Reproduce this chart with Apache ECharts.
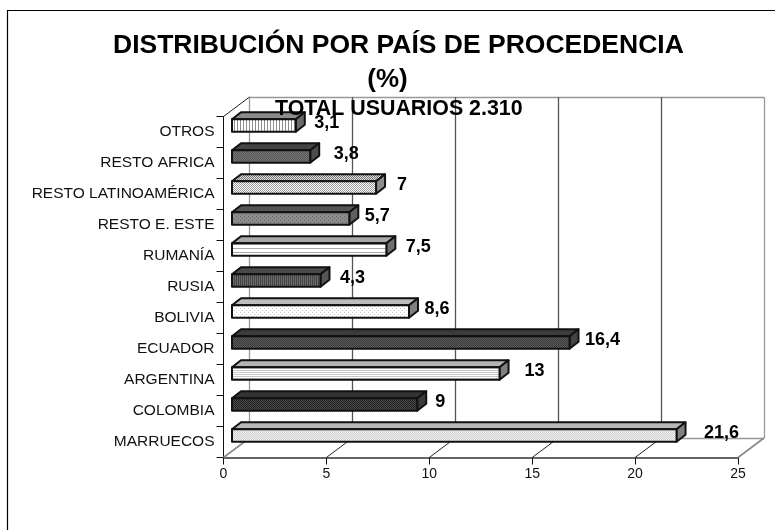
<!DOCTYPE html>
<html lang="es">
  <head>
    <meta charset="UTF-8" />
    <title>Distribución por país de procedencia</title>
    <script src="https://cdn.jsdelivr.net/npm/echarts@6/dist/echarts.min.js"></script>
    <style>
      body { margin: 0; background: #fff; }
    </style>
  </head>
  <body>
    <div id="main" style="width: 775px; height: 530px"></div>
    <script type="text/javascript">
      const categories = [
        "MARRUECOS", "COLOMBIA", "ARGENTINA", "ECUADOR", "BOLIVIA", "RUSIA",
        "RUMANÍA", "RESTO E. ESTE", "RESTO LATINOAMÉRICA", "RESTO AFRICA", "OTROS",
      ];
      const values = [21.6, 9, 13, 16.4, 8.6, 4.3, 7.5, 5.7, 7, 3.8, 3.1];
      const xTicks = [0, 5, 10, 15, 20, 25];

      const font = "Liberation Sans";
      // the 3d box: how far the bars and the back wall sit behind the axes
      const wallX = 26, wallY = 19.5;
      const barShiftX = 8.5, barShiftY = -6.5, barH = 12.5, barDx = 9, barDy = 7;
      // value labels were hand placed in the original, so the gap varies
      const labelGap = [36, 14, 26, 24, 19, 23, 23, 19, 17, 27, 22];

      // small repeating tile: rows of a string, "x" = ink
      function tile(ink, paper, rows) {
        const c = document.createElement("canvas");
        c.height = rows.length;
        c.width = rows[0].length;
        const ctx = c.getContext("2d");
        rows.forEach((row, y) => {
          for (let x = 0; x < row.length; x++) {
            ctx.fillStyle = row[x] === "x" ? ink : paper;
            ctx.fillRect(x, y, 1, 1);
          }
        });
        return { image: c, repeat: "repeat" };
      }
      const dots = ["x.", ".x"];
      const sparse = ["x...", "....", "..x.", "...."];

      // front / top / side fill per category, same order as categories
      const barFills = [
        { front: tile("#cfcfcf", "#f2f2f2", dots), top: "#b8b8b8", side: "#808080" },
        { front: tile("#222222", "#4a4a4a", dots), top: "#333333", side: "#3a3a3a" },
        { front: tile("#c8c8c8", "#ffffff", ["x", "."]), top: "#b4b4b4", side: "#808080" },
        { front: tile("#3a3a3a", "#5a5a5a", dots), top: "#3c3c3c", side: "#444444" },
        { front: tile("#cccccc", "#ffffff", sparse), top: "#bdbdbd", side: "#808080" },
        { front: tile("#444444", "#6a6a6a", ["x.", "x."]), top: "#4a4a4a", side: "#555555" },
        { front: tile("#a8a8a8", "#ffffff", ["xx", "..", "..", ".."]), top: "#a8a8a8", side: "#707070" },
        { front: tile("#666666", "#8c8c8c", sparse), top: "#555555", side: "#606060" },
        { front: tile("#999999", "#ffffff", dots), top: tile("#777777", "#dddddd", dots), side: "#8c8c8c" },
        { front: tile("#555555", "#777777", dots), top: "#444444", side: "#4c4c4c" },
        { front: tile("#8c8c8c", "#ffffff", ["x..", "x.."]), top: "#8c8c8c", side: "#6a6a6a" },
      ];

      function renderBar(params, api) {
        const i = api.value(1);
        const base = api.coord([0, i]);
        const end = api.coord([api.value(0), i]);
        const x0 = base[0] + barShiftX;
        const x1 = end[0] + barShiftX;
        const y0 = base[1] + barShiftY - barH / 2;
        const y1 = y0 + barH;
        const line = { stroke: "#111", lineWidth: 2, lineJoin: "round" };
        const fills = barFills[i];
        return {
          type: "group",
          children: [
            {
              type: "polygon",
              shape: { points: [[x0, y0], [x0 + barDx, y0 - barDy], [x1 + barDx, y0 - barDy], [x1, y0]] },
              style: { fill: fills.top, ...line },
            },
            {
              type: "polygon",
              shape: { points: [[x1, y0], [x1 + barDx, y0 - barDy], [x1 + barDx, y1 - barDy], [x1, y1]] },
              style: { fill: fills.side, ...line },
            },
            {
              type: "rect",
              shape: { x: x0, y: y0, width: x1 - x0, height: barH },
              style: { fill: fills.front, ...line },
            },
            {
              type: "text",
              z2: 20,
              style: {
                x: x1 + barDx + labelGap[i],
                y: base[1] + barShiftY - 2.5,
                text: String(api.value(0)).replace(".", ","),
                fill: "#000",
                font: "bold 18px '" + font + "'",
                textAlign: "center",
                textVerticalAlign: "middle",
              },
            },
          ],
        };
      }

      // diagonals on the floor, plus the one going up the left wall
      function renderDiagonal(params, api) {
        const t = api.value(0);
        const box = params.coordSys;
        const atTop = api.value(1) === 1;
        const p = api.coord([t, 0]);
        const y = atTop ? box.y : box.y + box.height;
        const outer = !atTop && (t === xTicks[0] || t === xTicks[xTicks.length - 1]);
        return {
          type: "line",
          shape: { x1: p[0], y1: y, x2: p[0] + wallX, y2: y - wallY },
          style: { stroke: outer ? "#888" : "#222", lineWidth: outer ? 1.6 : 1 },
        };
      }

      const options = {
        backgroundColor: "#fff",
        animation: false,
        title: [
          {
            text: "DISTRIBUCIÓN POR PAÍS DE PROCEDENCIA",
            left: 108, top: 27,
            textStyle: { fontFamily: font, fontWeight: "bold", fontSize: 26.5, color: "#000" },
          },
          {
            text: "(%)",
            left: "center", top: 62,
            textStyle: { fontFamily: font, fontWeight: "bold", fontSize: 26, color: "#000" },
          },
          {
            text: "TOTAL USUARIOS 2.310",
            left: 270, top: 94,
            textStyle: { fontFamily: font, fontWeight: "bold", fontSize: 21.4, color: "#000" },
          },
        ],
        grid: [
          { left: 223.5, top: 116.5, width: 514.5, height: 341 },
          { left: 223.5 + wallX, top: 116.5 - wallY, width: 514.5, height: 341 },
        ],
        xAxis: [
          {
            type: "value", gridIndex: 0, min: 0, max: 25, interval: 5,
            axisLine: { show: true, lineStyle: { color: "#333", width: 1.5 } },
            axisTick: { show: true, length: 7, lineStyle: { color: "#111" } },
            axisLabel: { color: "#111", fontFamily: font, fontSize: 14, margin: 10 },
            splitLine: { show: false },
          },
          {
            type: "value", gridIndex: 1, min: 0, max: 25, interval: 5,
            axisLine: { show: false }, axisTick: { show: false }, axisLabel: { show: false },
            splitLine: {
              show: true,
              lineStyle: { color: ["#999", "#555", "#555", "#555", "#555", "#999"], width: 1.3 },
            },
          },
        ],
        yAxis: [
          {
            type: "category", gridIndex: 0, data: categories,
            axisLine: { show: true, lineStyle: { color: "#111", width: 1 } },
            axisTick: { show: true, length: 7, lineStyle: { color: "#111" } },
            axisLabel: { color: "#111", fontFamily: font, fontSize: 15.5, margin: 9, interval: 0, padding: [2, 0, 0, 0] },
            splitLine: { show: false },
          },
          {
            type: "value", gridIndex: 1, min: 0, max: 1, interval: 1,
            axisLine: { show: false }, axisTick: { show: false }, axisLabel: { show: false },
            splitLine: { show: true, lineStyle: { color: "#999", width: 1.3 } },
          },
        ],
        graphic: [
          {
            type: "polyline",
            shape: { points: [[7.5, 530], [7.5, 10.5], [775, 10.5]] },
            style: { stroke: "#000", lineWidth: 1.2, fill: null },
          },
        ],
        series: [
          {
            type: "custom", xAxisIndex: 0, yAxisIndex: 0, z: 3,
            renderItem: renderDiagonal,
            data: xTicks.map((t) => [t, 0]).concat([[0, 1]]),
            encode: { x: 0 },
            silent: true,
          },
          {
            type: "custom", xAxisIndex: 0, yAxisIndex: 0, z: 4,
            renderItem: renderBar,
            data: values.map((v, i) => [v, i]),
            encode: { x: 0, y: 1 },
            silent: true,
          },
        ],
      };

      const myChart = echarts.init(document.getElementById("main"));
      myChart.setOption(options);
    </script>
  </body>
</html>
